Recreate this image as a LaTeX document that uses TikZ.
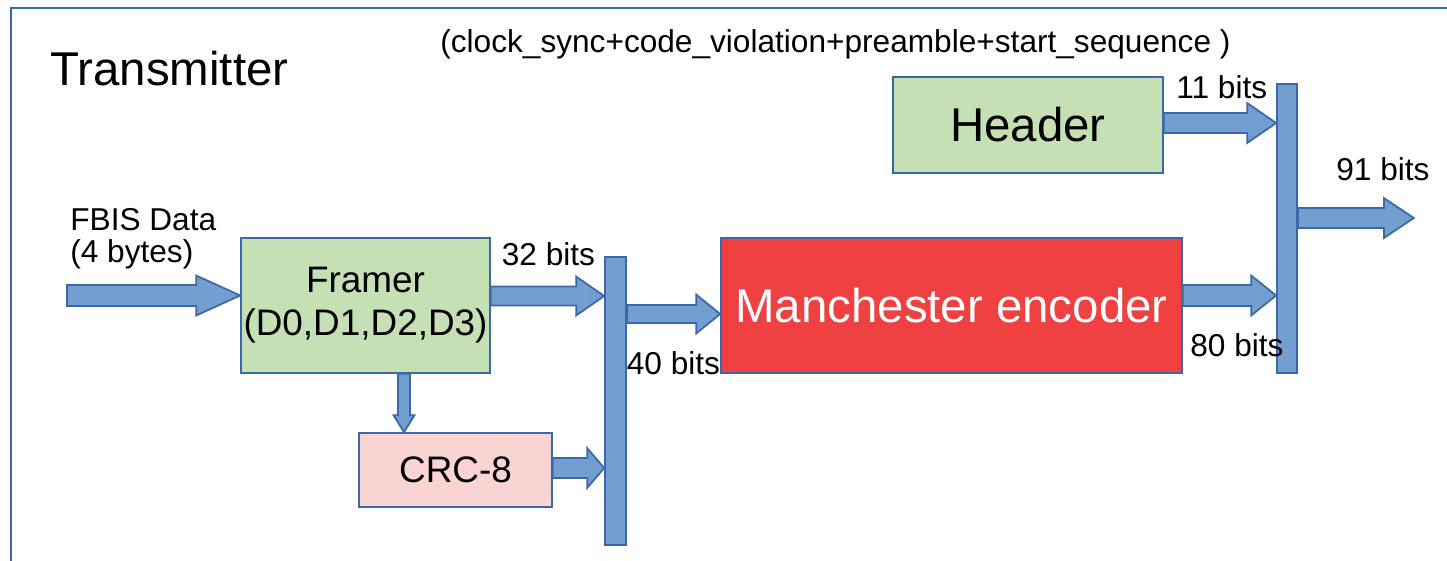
\documentclass[tikz,border=0pt]{standalone}
\usepackage{fontspec}
\setmainfont{Liberation Sans}
\usepackage{tikz}
\usetikzlibrary{calc,positioning}

\definecolor{arrowblue}{RGB}{114,159,207}
\definecolor{edgeblue}{RGB}{58,104,170}
\definecolor{blockgreen}{RGB}{197,224,180}
\definecolor{crcpink}{RGB}{250,212,210}
\definecolor{encred}{RGB}{239,65,65}

\tikzset{
  block/.style={draw=edgeblue, line width=1pt, inner sep=0pt, align=center},
  bus/.style={draw=edgeblue, fill=arrowblue, line width=1pt, inner sep=0pt},
  fat/.style={draw=edgeblue, fill=arrowblue, line width=1pt, line join=miter},
  lbl/.style={inner sep=0pt, anchor=base west, font=\fontsize{18}{18}\selectfont},
}

% block arrow: from, to, head length, half shaft, half head
\newcommand{\fatarrow}[5]{%
  \coordinate (hb) at ($(#2)!#3!(#1)$);
  \draw[fat] ($(#1)!#4!90:(#2)$) -- ($(hb)!#4!90:(#2)$) -- ($(hb)!#5!90:(#2)$)
    -- (#2) -- ($(hb)!#5!-90:(#2)$) -- ($(hb)!#4!-90:(#2)$)
    -- ($(#1)!#4!-90:(#2)$) -- cycle;}

\begin{document}
\begin{tikzpicture}[x=0.02cm, y=-0.02cm]
\useasboundingbox (0,0) rectangle (1447,561);
\draw[edgeblue, line width=1.2pt] (11,561) -- (11,8) -- (1447,8);

\node[lbl, font=\fontsize{27}{27}\selectfont] (title) at (50,85) {Transmitter};
\node[lbl] (note) at (440,52.5) {(clock\_sync+code\_violation+preamble+start\_sequence )};

% blocks
\node[block, fill=blockgreen, minimum width=4.98cm, minimum height=2.7cm,
    font=\fontsize{21}{24.4}\selectfont] (framer) at (365.5,305.5) {Framer\\(D0,D1,D2,D3)};
\node[block, fill=crcpink, minimum width=3.86cm, minimum height=1.48cm,
    font=\fontsize{21}{21}\selectfont] (crc) at (455.5,470) {CRC-8};
\node[block, fill=encred, text=white, minimum width=9.22cm, minimum height=2.7cm,
    font=\fontsize{27}{27}\selectfont] (enc) at (951.5,305.5) {Manchester encoder};
\node[block, fill=blockgreen, minimum width=5.4cm, minimum height=1.92cm,
    font=\fontsize{27}{27}\selectfont] (header) at (1028,125) {Header};

% buses
\node[bus, minimum width=0.42cm, minimum height=5.76cm] (busA) at (615.5,401) {};
\node[bus, minimum width=0.4cm, minimum height=5.78cm] (busB) at (1287,228.5) {};

% arrows
\coordinate (in0) at (67,295.5);
\coordinate (in1) at (in0 -| framer.west);
\fatarrow{in0}{in1}{0.88cm}{0.21cm}{0.4cm}

\coordinate (f0) at ($(framer.east)+(0,-9.5)$);
\coordinate (f1) at (f0 -| busA.west);
\fatarrow{f0}{f1}{0.56cm}{0.19cm}{0.39cm}

\coordinate (b1) at ($(enc.west)+(0,8.5)$);
\coordinate (b0) at (b1 -| busA.east);
\fatarrow{b0}{b1}{0.48cm}{0.18cm}{0.39cm}

\coordinate (c0) at ($(framer.south)+(38.5,0)$);
\coordinate (c1) at (c0 |- crc.north);
\fatarrow{c0}{c1}{0.34cm}{0.12cm}{0.21cm}

\coordinate (r0) at ($(crc.east)+(0,-2)$);
\coordinate (r1) at (r0 -| busA.west);
\fatarrow{r0}{r1}{0.34cm}{0.2cm}{0.4cm}

\coordinate (h0) at ($(header.east)+(0,-2)$);
\coordinate (h1) at (h0 -| busB.west);
\fatarrow{h0}{h1}{0.58cm}{0.2cm}{0.4cm}

\coordinate (e0) at ($(enc.east)+(0,-10)$);
\coordinate (e1) at (e0 -| busB.west);
\fatarrow{e0}{e1}{0.5cm}{0.21cm}{0.4cm}

\coordinate (o0) at ($(busB.east)+(0,-10.5)$);
\coordinate (o1) at ($(o0)+(116,0)$);
\fatarrow{o0}{o1}{0.6cm}{0.2cm}{0.4cm}

% labels
\node[lbl, anchor=north west, align=left] (fbis) at (70,208) {FBIS Data\\(4 bytes)};
\node[lbl] (l32) at (501.5,265) {32 bits};
\node[lbl] (l40) at (626.5,374) {40 bits};
\node[lbl] (l11) at (1176,98.5) {11 bits};
\node[lbl] (l80) at (1190,356) {80 bits};
\node[lbl] (l91) at (1336,180.7) {91 bits};
\end{tikzpicture}
\end{document}
